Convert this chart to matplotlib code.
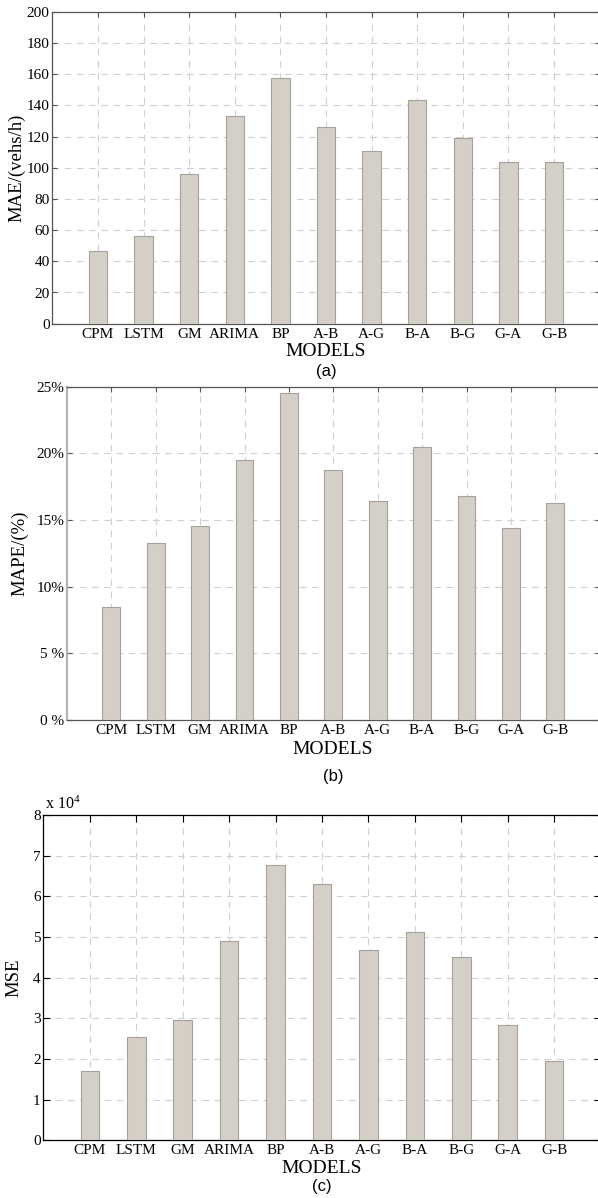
import numpy as np
import matplotlib
matplotlib.use('Agg')
import matplotlib.pyplot as plt

# model names along the x axis
models = ['CPM', 'LSTM', 'GM', 'ARIMA', 'BP', 'A-B', 'A-G', 'B-A', 'B-G', 'G-A', 'G-B']

# error measures per model
mae = [46.3, 56.3, 96.0, 133.0, 157.3, 125.9, 110.7, 143.2, 118.8, 103.8, 103.8]
mape = [8.47, 13.25, 14.55, 19.48, 24.5, 18.72, 16.45, 20.47, 16.78, 14.37, 16.28]
mse = [1.71, 2.55, 2.97, 4.89, 6.76, 6.31, 4.67, 5.12, 4.52, 2.83, 1.96]  # x 10^4

mae_ticks = list(range(0, 201, 20))
mape_ticks = [0, 5, 10, 15, 20, 25]
mape_ticklabels = ['0 %', '5 %', '10%', '15%', '20%', '25%']
mse_ticks = list(range(0, 9))

plt.rcParams['font.family'] = ['Liberation Serif', 'DejaVu Serif']
plt.rcParams['mathtext.fontset'] = 'custom'
plt.rcParams['mathtext.rm'] = 'Liberation Serif'
plt.rcParams['mathtext.default'] = 'regular'

W, H = 598, 1198
fig = plt.figure(figsize=(W / 100, H / 100), dpi=100, facecolor='white')

bar_face = '#d4d0c8'
bar_edge = '#a6a29b'
grid_color = '#cfcfcf'
x = np.arange(1, len(models) + 1)


def px_axes(left, right, top, bottom):
    return fig.add_axes([left / W, 1 - bottom / H, (right - left) / W, (bottom - top) / H])


def style(ax, values, yticks, spine_color, tick_len):
    ax.bar(x, values, width=0.4, color=bar_face, edgecolor=bar_edge, linewidth=0.8, zorder=3)
    ax.set_xlim(0, 12)
    ax.set_xticks(x)
    ax.set_xticklabels(models)
    ax.set_yticks(yticks)
    ax.set_ylim(yticks[0], yticks[-1])
    ax.grid(True, color=grid_color, linestyle=(0, (6, 5)), linewidth=0.8, zorder=0)
    ax.tick_params(direction='in', top=True, right=True, length=tick_len, width=0.8,
                   labelsize=11, pad=3, color=spine_color)
    ax.tick_params(axis='y', pad=2)
    for s in ax.spines.values():
        s.set_color(spine_color)
        s.set_linewidth(0.9)


def ylabel(ax, text, left, right, x_px):
    ax.set_ylabel(text, fontsize=13.5)
    ax.yaxis.set_label_coords((x_px - left) / (right - left), 0.5)


def captions(xc, axis_y, models_dy, tag_dy, tag):
    fig.text(xc / W, 1 - (axis_y + models_dy) / H, 'MODELS', ha='center', va='center', fontsize=14)
    fig.text(xc / W, 1 - (axis_y + tag_dy) / H, tag, ha='center', va='center', fontsize=12,
             family=['Liberation Sans', 'DejaVu Sans'])


# (a) MAE
ax1 = px_axes(52.4, 599.6, 11.7, 323.7)
style(ax1, mae, mae_ticks, '#555555', 3.5)
ylabel(ax1, 'MAE/(vehs/h)', 52.4, 599.6, 25)
captions(326, 323.7, 28, 48, '(a)')

# (b) MAPE
ax2 = px_axes(66.9, 599.7, 386.7, 720)
style(ax2, mape, mape_ticks, '#555555', 3.5)
ax2.set_yticklabels(mape_ticklabels)
ax2.spines['left'].set_color('#b4b4b4')
ax2.spines['left'].set_linewidth(1.6)
ylabel(ax2, 'MAPE/(%)', 66.9, 599.7, 28)
captions(333, 720, 29, 57, '(b)')

# (c) MSE
ax3 = px_axes(43.5, 600.5, 815, 1140.3)
style(ax3, mse, mse_ticks, 'black', 5)
ylabel(ax3, 'MSE', 43.5, 600.5, 22)
ax3.text(0.003, 1.006, 'x 10$^{4}$', transform=ax3.transAxes, ha='left', va='bottom', fontsize=11.5)
captions(321.5, 1140.3, 28, 46.5, '(c)')

fig.savefig('out.png', dpi=100, facecolor='white')
